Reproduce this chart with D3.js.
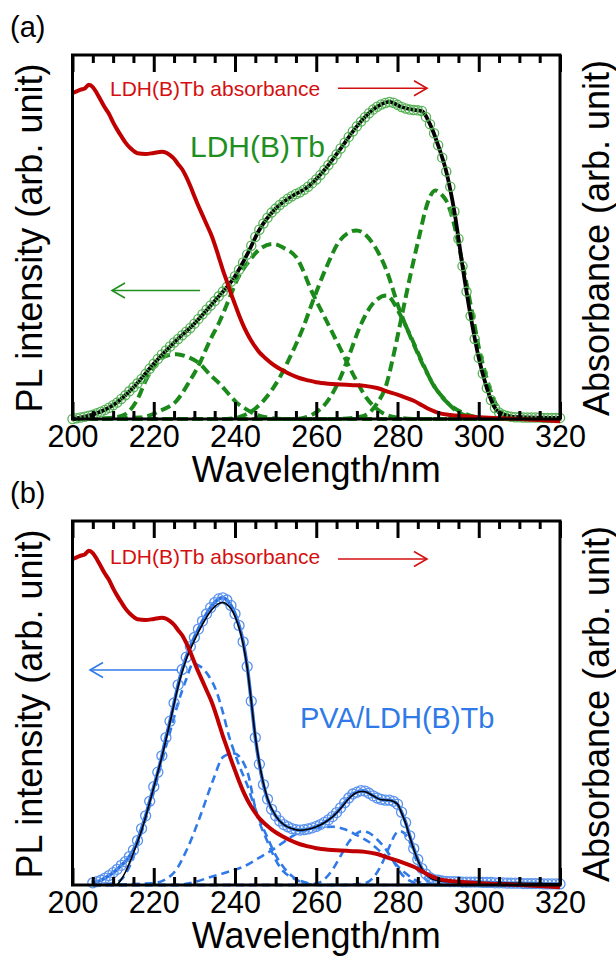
<!DOCTYPE HTML>
<html>
<head>
<meta charset="UTF-8">
<script src="https://d3js.org/d3.v7.min.js"></script>
<style>
body { margin: 0; background: #ffffff; }
text { font-family: "Liberation Sans", Arial, sans-serif; }
.tick line { stroke: #000; stroke-width: 3; }
</style>
<title>PL / absorbance</title>
</head>
<body>
<div id="chart"></div>
<script>
// ---------- values ----------
var majorTicks = [200, 220, 240, 260, 280, 300, 320];
var minorTicks = [205, 210, 215, 225, 230, 235, 245, 250, 255, 265, 270, 275, 285, 290, 295, 305, 310, 315];

// LDH(B)Tb absorbance (same curve in both panels), [nm, normalised]
var absorbance = [[200,0.895],[201,0.900],[202,0.905],[203,0.908],[204,0.918],[205,0.912],[206,0.895],[207,0.875],
  [208,0.855],[209,0.838],[210,0.815],[211,0.795],[212,0.777],[213,0.760],[214,0.747],[215,0.737],[216,0.730],
  [218,0.728],[220,0.731],[222,0.734],[223,0.732],[224,0.725],[225,0.715],[226,0.700],[227,0.686],[228,0.665],
  [229,0.640],[230,0.612],[231,0.585],[232,0.560],[233,0.535],[234,0.510],[235,0.480],[236,0.445],[237,0.410],
  [238,0.378],[239,0.345],[240,0.315],[241,0.285],[242,0.258],[243,0.235],[244,0.215],[245,0.198],[246,0.183],
  [247,0.172],[248,0.162],[249,0.153],[250,0.145],[252,0.132],[254,0.121],[256,0.112],[258,0.106],[260,0.101],
  [263,0.097],[266,0.095],[269,0.093],[272,0.091],[275,0.085],[278,0.074],[280,0.067],[282,0.059],[284,0.050],
  [286,0.038],[288,0.026],[290,0.017],[293,0.011],[296,0.008],[300,0.005],[305,0.002],[310,0.000],[315,-0.003],[320,-0.006]];

// (a) LDH(B)Tb PL excitation, one point per nm from 200 nm
var ldhStart = 200;
var ldhPL = [0.000,0.002,0.004,0.006,0.009,0.012,0.016,0.020,0.025,0.031,
  0.038,0.045,0.055,0.065,0.076,0.087,0.098,0.110,0.124,0.138,
  0.152,0.165,0.177,0.188,0.199,0.210,0.220,0.230,0.240,0.250,
  0.262,0.275,0.288,0.300,0.312,0.324,0.337,0.350,0.363,0.377,
  0.392,0.410,0.430,0.452,0.476,0.500,0.520,0.537,0.553,0.567,
  0.578,0.588,0.597,0.605,0.612,0.618,0.623,0.630,0.638,0.648,
  0.658,0.670,0.684,0.698,0.712,0.727,0.743,0.759,0.775,0.790,
  0.804,0.817,0.829,0.840,0.850,0.858,0.864,0.868,0.871,0.869,
  0.863,0.857,0.853,0.850,0.849,0.848,0.846,0.830,0.810,0.785,
  0.752,0.718,0.680,0.638,0.570,0.495,0.420,0.350,0.283,0.220,
  0.168,0.125,0.085,0.052,0.030,0.018,0.012,0.008,0.006,0.005,
  0.005,0.004,0.004,0.004,0.004,0.004,0.003,0.003,0.003,0.003,0.003];
var ldhFit = [[200,0.0],[205,0.012],[210,0.038],[215,0.087],[220,0.152],[225,0.21],[230,0.262],[235,0.324],
  [240,0.392],[243,0.452],[246,0.52],[250,0.578],[254,0.612],[258,0.638],[262,0.684],[266,0.743],[270,0.804],
  [274,0.85],[278,0.871],[281,0.857],[284,0.849],[286,0.846],[288,0.81],[290,0.752],[292,0.68],[294,0.57],
  [296,0.42],[298,0.283],[300,0.168],[302,0.085],[304,0.03],[306,0.012],[310,0.005],[320,0.003]];
var ldhPeaks = [
  [[200,0],[205,0],[210,0.004],[213,0.013],[215.8,0.05],[218.3,0.112],[221.5,0.163],[223.5,0.175],[225.6,0.178],
   [228,0.172],[231.4,0.151],[234,0.12],[236.3,0.096],[238.5,0.068],[240.4,0.045],[242.9,0.026],[245,0.013],
   [248,0.004],[252,0],[320,0]],
  [[200,0],[216.6,0.004],[221.5,0.022],[225.6,0.05],[228.9,0.105],[231.4,0.155],[233.8,0.215],[236.3,0.27],
   [238.7,0.334],[240.4,0.38],[243.6,0.436],[246.5,0.47],[249.4,0.481],[252,0.47],[255.1,0.444],[259.2,0.343],
   [262.5,0.27],[265.8,0.196],[269.1,0.122],[272.3,0.059],[275.6,0.022],[279.7,0.004],[285,0],[320,0]],
  [[200,0],[237.9,0],[242.8,0.013],[247,0.05],[251,0.114],[253.5,0.169],[256.8,0.252],[259.2,0.325],[262.5,0.417],
   [265.8,0.49],[269.9,0.518],[274,0.481],[277.3,0.408],[280.5,0.30],[283.8,0.21],[287.1,0.13],[290.4,0.068],
   [293,0.038],[297,0.013],[300,0.004],[305,0],[320,0]],
  [[200,0],[255,0],[259.2,0.013],[262.5,0.045],[265.8,0.11],[268.2,0.178],[270.7,0.252],[274,0.318],[277.3,0.339],
   [280.5,0.29],[283,0.233],[286.3,0.151],[289,0.09],[291.2,0.059],[294.5,0.022],[298,0.006],[303,0],[320,0]],
  [[200,0],[265,0],[271.5,0.008],[274.8,0.04],[277.3,0.096],[278.9,0.169],[280.5,0.253],[282.2,0.344],[283.8,0.427],
   [285.5,0.509],[287.1,0.583],[289.3,0.628],[291,0.615],[292,0.6],[293.7,0.545],[295.3,0.465],[297,0.371],
   [298.6,0.279],[300.2,0.187],[301.9,0.114],[303.5,0.059],[305.2,0.022],[306.8,0.008],[310,0],[320,0]]
];

// (b) PVA/LDH(B)Tb PL excitation, one point per nm from 205 nm
var pvaStart = 205;
var pvaPL = [0.006,0.009,0.013,0.019,0.026,
  0.034,0.043,0.054,0.064,0.078,0.096,0.122,0.155,0.190,0.230,
  0.270,0.310,0.355,0.405,0.450,0.500,0.550,0.592,0.626,0.655,
  0.680,0.703,0.725,0.745,0.762,0.776,0.786,0.789,0.783,0.768,
  0.745,0.713,0.668,0.600,0.505,0.405,0.332,0.276,0.236,0.208,
  0.190,0.176,0.166,0.160,0.155,0.152,0.151,0.152,0.154,0.157,
  0.161,0.166,0.172,0.179,0.188,0.199,0.212,0.226,0.239,0.250,
  0.255,0.259,0.258,0.252,0.245,0.239,0.235,0.233,0.233,0.230,
  0.222,0.200,0.172,0.135,0.100,0.070,0.045,0.030,0.020,0.015,
  0.013,0.011,0.010,0.009,0.009,0.009,0.008,0.008,0.008,0.008,
  0.008,0.007,0.007,0.007,0.006,0.006,0.006,0.005,0.005,0.005,
  0.005,0.004,0.004,0.004,0.004,0.004,0.003,0.003,0.003,0.003,0.003];
var pvaFit = [[211,0],[212,0.015],[213,0.035],[214,0.06],[215,0.088],[216,0.118],[217,0.15],[218,0.187],[219,0.227],
  [220,0.268],[222,0.352],[224,0.447],[226,0.545],[228,0.62],[230,0.672],[232,0.716],[234,0.752],[236,0.773],
  [237,0.776],[238,0.771],[240,0.738],[242,0.662],[243,0.597],[244,0.505],[245,0.408],[246,0.335],[248,0.238],
  [250,0.19],[252,0.166],[254,0.155],[256,0.15],[258,0.153],[260,0.16],[262,0.171],[264,0.187],[266,0.21],
  [268,0.237],[270,0.254],[271,0.257],[272,0.256],[274,0.245],[276,0.234],[278,0.233],[280,0.222],[281,0.198],
  [282,0.17],[283,0.133],[284,0.098],[285,0.068],[286,0.044],[288,0.02],[290,0.012],[295,0.008],[300,0.007],
  [310,0.005],[320,0.003]];
var pvaPeaks = [
  [[205,0],[210,0.005],[212,0.015],[214,0.05],[216,0.11],[218,0.18],[220,0.255],[222,0.34],[224,0.42],[226,0.5],
   [228,0.565],[229.7,0.608],[231.5,0.6],[233.5,0.575],[235.5,0.53],[237,0.475],[238.5,0.41],[240,0.36],
   [241.5,0.315],[243,0.275],[244.5,0.225],[246,0.18],[248,0.13],[250,0.082],[252,0.048],[254,0.025],[256,0.012],
   [258,0.005],[262,0],[320,0]],
  [[205,0],[219.9,0.005],[224.8,0.032],[228.1,0.096],[231.4,0.188],[234.6,0.288],[237.1,0.352],[239.6,0.362],
   [242.9,0.316],[245.3,0.197],[247.8,0.124],[251,0.05],[255.2,0.014],[260,0],[320,0]],
  [[205,0],[225,0],[230,0.008],[234,0.022],[238,0.035],[242,0.05],[246,0.075],[249,0.095],[252,0.118],[255,0.14],
   [258,0.152],[261,0.158],[264,0.16],[267,0.153],[270,0.137],[273,0.118],[276,0.09],[279,0.063],[282,0.032],
   [285,0.01],[288,0.002],[292,0],[320,0]],
  [[205,0],[255,0],[260,0.004],[262,0.016],[264,0.042],[266,0.08],[268,0.118],[270,0.142],[271.5,0.148],[273,0.143],
   [275,0.125],[277,0.1],[279,0.065],[281,0.03],[283,0.012],[286,0.002],[290,0],[320,0]],
  [[205,0],[265,0],[272,0.005],[274,0.02],[276,0.055],[278,0.105],[279.5,0.14],[280.5,0.148],[282,0.138],
   [283,0.118],[284,0.09],[285,0.055],[286,0.03],[287.5,0.01],[290,0.002],[295,0],[320,0]]
];

// ---------- layout ----------
var W = 616, H = 956;
var left = 72.5, right = 560, plotH = 364;

var svg = d3.select("#chart").append("svg")
    .attr("width", W)
    .attr("height", H)
    .style("background", "#fff");

var x = d3.scaleLinear().domain([200, 320]).range([left, right]);
var y = d3.scaleLinear().domain([0, 1]).range([plotH, 0]);

var line = d3.line()
    .x(function(d) { return x(d[0]); })
    .y(function(d) { return y(d[1]); })
    .curve(d3.curveMonotoneX);

function toPairs(start, vals) {
  return vals.map(function(v, i) { return [start + i, v]; });
}

function drawArrow(g, x1, x2, yy, color, headLeft) {
  g.append("line").attr("x1", x1).attr("x2", x2).attr("y1", yy).attr("y2", yy)
      .attr("stroke", color).attr("stroke-width", 1.6);
  var tip = headLeft ? Math.min(x1, x2) : Math.max(x1, x2);
  var back = headLeft ? tip + 13 : tip - 13;
  g.append("path")
      .attr("d", "M" + back + "," + (yy - 7.5) + " L" + tip + "," + yy + " L" + back + "," + (yy + 7.5))
      .attr("fill", "none").attr("stroke", color).attr("stroke-width", 1.6);
}

function drawPanel(top, p) {
  var g = svg.append("g").attr("transform", "translate(0," + top + ")");

  // fitted components
  p.peaks.forEach(function(pk) {
    g.append("path").attr("d", line(pk))
        .attr("fill", "none").attr("stroke", p.dashColor)
        .attr("stroke-width", p.dashWidth).attr("stroke-dasharray", p.dashArray);
  });

  var pts = toPairs(p.start, p.pl);
  if (p.dataLine) {
    g.append("path").attr("d", line(pts))
        .attr("fill", "none").attr("stroke", p.dataLine).attr("stroke-width", 3.5);
  }
  if (!p.fitOnTop) {
    g.append("path").attr("d", line(p.fit))
        .attr("fill", "none").attr("stroke", "#000").attr("stroke-width", p.fitWidth);
  }
  g.selectAll("circle.pt").data(pts).enter().append("circle")
      .attr("class", "pt")
      .attr("cx", function(d) { return x(d[0]); })
      .attr("cy", function(d) { return y(d[1]); })
      .attr("r", p.r)
      .attr("fill", "none")
      .attr("stroke", p.circleColor)
      .attr("stroke-width", 1.3);
  if (p.fitOnTop) {
    g.append("path").attr("d", line(p.fit))
        .attr("fill", "none").attr("stroke", "#000").attr("stroke-width", p.fitWidth);
  }

  // absorbance
  g.append("path").attr("d", line(absorbance))
      .attr("fill", "none").attr("stroke", "#c00000").attr("stroke-width", 4);

  // axes: inward ticks top and bottom
  var bottomAx = g.append("g").attr("transform", "translate(0," + plotH + ")")
      .call(d3.axisBottom(x).tickValues(majorTicks).tickSize(-17).tickPadding(6).tickFormat(d3.format("d")));
  bottomAx.select(".domain").remove();
  bottomAx.selectAll("text").attr("font-size", 30.5).attr("fill", "#000")
      .style("font-family", "'Liberation Sans', Arial, sans-serif");
  var bottomMinor = g.append("g").attr("transform", "translate(0," + plotH + ")")
      .call(d3.axisBottom(x).tickValues(minorTicks).tickSize(-8).tickFormat(""));
  bottomMinor.select(".domain").remove();
  var topAx = g.append("g")
      .call(d3.axisTop(x).tickValues(majorTicks).tickSize(-17).tickFormat(""));
  topAx.select(".domain").remove();
  var topMinor = g.append("g")
      .call(d3.axisTop(x).tickValues(minorTicks).tickSize(-8).tickFormat(""));
  topMinor.select(".domain").remove();

  g.append("rect").attr("x", left).attr("y", 0).attr("width", right - left).attr("height", plotH)
      .attr("fill", "none").attr("stroke", "#000").attr("stroke-width", 3);

  // titles
  g.append("text").attr("x", (left + right) / 2).attr("y", plotH + 63)
      .attr("text-anchor", "middle").attr("font-size", 36).text("Wavelength/nm");
  g.append("text").attr("transform", "translate(42," + (plotH / 2 + 1) + ") rotate(-90)")
      .attr("text-anchor", "middle").attr("font-size", 36).text("PL intensity (arb. unit)");
  g.append("text").attr("transform", "translate(609," + (plotH / 2 + 1) + ") rotate(-90)")
      .attr("text-anchor", "middle").attr("font-size", 36).text("Absorbance (arb. unit)");
  g.append("text").attr("x", 10).attr("y", -18).attr("font-size", 29).text(p.letter);

  // annotations
  g.append("text").attr("x", 110).attr("y", p.absTextY).attr("font-size", 21)
      .attr("fill", "#d40f0f").text("LDH(B)Tb absorbance");
  drawArrow(g, 338, 427, p.absArrowY, "#d40f0f", false);
  g.append("text").attr("x", p.labelX).attr("y", p.labelY).attr("font-size", p.labelSize)
      .attr("fill", p.labelColor).text(p.label);
  drawArrow(g, p.arrowX1, p.arrowX2, p.arrowY, p.labelColor, true);
}

drawPanel(55, {
  letter: "(a)", start: ldhStart, pl: ldhPL, fit: ldhFit, peaks: ldhPeaks,
  dashColor: "#1b8a1b", dashWidth: 4, dashArray: "10,5",
  circleColor: "#56b256", r: 4.6, fitWidth: 3.8, fitOnTop: false, dataLine: null,
  absTextY: 41, absArrowY: 33.3,
  label: "LDH(B)Tb", labelX: 190, labelY: 102, labelSize: 30, labelColor: "#1f8f1f",
  arrowX1: 112, arrowX2: 200, arrowY: 235.5
});

drawPanel(521, {
  letter: "(b)", start: pvaStart, pl: pvaPL, fit: pvaFit, peaks: pvaPeaks,
  dashColor: "#2f7ae8", dashWidth: 2.6, dashArray: "8,5",
  circleColor: "#5a93ee", r: 5, fitWidth: 1.6, fitOnTop: true, dataLine: "#2c6fe0",
  absTextY: 43, absArrowY: 38,
  label: "PVA/LDH(B)Tb", labelX: 300, labelY: 206.5, labelSize: 29, labelColor: "#2f7ae8",
  arrowX1: 90, arrowX2: 178, arrowY: 149
});
</script>
</body>
</html>
